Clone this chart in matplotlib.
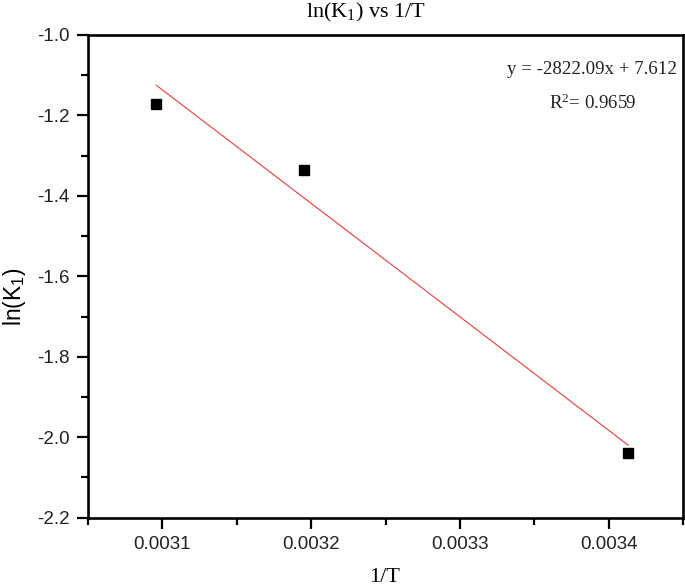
import matplotlib
matplotlib.use("Agg")
import matplotlib.pyplot as plt
from matplotlib.ticker import MultipleLocator, FixedLocator
import numpy as np

plt.rcParams["mathtext.default"] = "regular"

# Data
inv_T = [0.003096, 0.003195, 0.003413]
ln_K1 = [-1.171, -1.335, -2.039]
slope = -2822.09
intercept = 7.612
r_squared = 0.9659
x_ticks = [0.0031, 0.0032, 0.0033, 0.0034]
x_tick_labels = ["0.0031", "0.0032", "0.0033", "0.0034"]
y_ticks = [-2.2, -2.0, -1.8, -1.6, -1.4, -1.2, -1.0]
y_tick_labels = ["-2.2", "-2.0", "-1.8", "-1.6", "-1.4", "-1.2", "-1.0"]

W, H = 685, 588
fig = plt.figure(figsize=(W/100, H/100), dpi=100)
ax = fig.add_axes([88/W, 1-517.7/H, (683.3-88)/W, (517.7-35)/H])

ax.plot(inv_T, ln_K1, linestyle="none", marker="s", markersize=7.3,
        color="black", zorder=3)
xfit = np.array([inv_T[0], inv_T[-1]])
ax.plot(xfit, slope*xfit + intercept, color="#ee3b3b", lw=0.8, zorder=2)

ax.set_xlim(0.00305, 0.00345)
ax.set_ylim(-2.2, -1.0)
ax.xaxis.set_major_locator(FixedLocator(x_ticks))
ax.set_xticklabels(x_tick_labels)
ax.yaxis.set_major_locator(FixedLocator(y_ticks))
ax.set_yticklabels(y_tick_labels)
ax.xaxis.set_minor_locator(MultipleLocator(0.00005))
ax.yaxis.set_minor_locator(MultipleLocator(0.1))

for s in ax.spines.values():
    s.set_linewidth(1.9)
ax.tick_params(which="major", direction="out", length=8, width=1.6,
               labelsize=13.5, pad=5, top=False, right=False)
ax.tick_params(which="minor", direction="out", length=5, width=1.6,
               top=False, right=False)
for lab in ax.get_xticklabels() + ax.get_yticklabels():
    lab.set_fontfamily("Liberation Sans")
    lab.set_color("#222222")

fig.text(14/W, 1-297/H, r"ln(K$_1$)", rotation=90, ha="center", va="center",
         fontfamily="Liberation Sans", fontsize=16.5)
fig.text(385/W, 1-577/H, "1/T", ha="center", va="center",
         fontfamily="Liberation Serif", fontsize=16)
fig.text(366/W, 1-12/H, r"ln(K$_1$) vs 1/T", ha="center", va="center",
         fontfamily="Liberation Serif", fontsize=16)

fig.text(677/W, 1-70/H, f"y = {slope:.2f}x + {intercept}",
         ha="right", va="center", fontfamily="Liberation Serif", fontsize=13.6,
         color="#222222")
fig.text(592/W, 1-103/H, f"R$^2$= {r_squared}",
         ha="center", va="center", fontfamily="Liberation Serif", fontsize=13.6,
         color="#222222")

fig.savefig("out.png", dpi=100, facecolor="white")
